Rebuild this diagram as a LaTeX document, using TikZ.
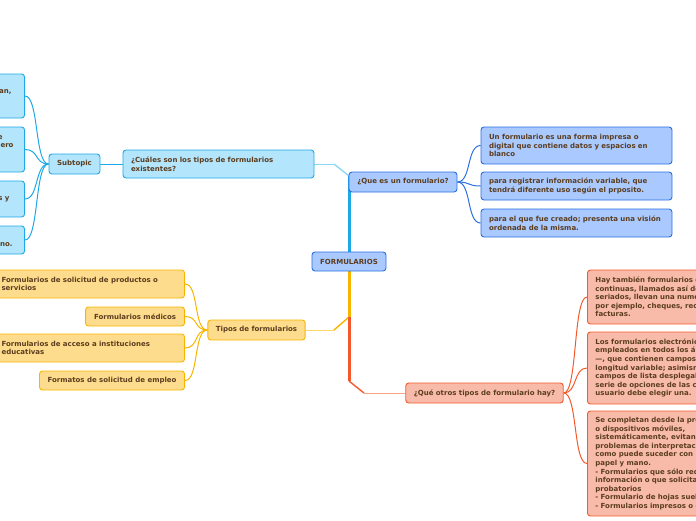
\documentclass[tikz,border=0pt]{standalone}
\usepackage{fontspec}
\setmainfont{DejaVu Sans}

\definecolor{txt}{HTML}{5C3D1E}
\definecolor{bluefill}{HTML}{A9C9FF}
\definecolor{bluedraw}{HTML}{2B6FE0}
\definecolor{cyanfill}{HTML}{B3E5FC}
\definecolor{cyandraw}{HTML}{1FA8E6}
\definecolor{cyanpale}{HTML}{8AD6F7}
\definecolor{yelfill}{HTML}{FEDC8D}
\definecolor{yeldraw}{HTML}{F7B500}
\definecolor{yelpale}{HTML}{FBD66A}
\definecolor{redfill}{HTML}{F8BBA9}
\definecolor{reddraw}{HTML}{F4592B}
\definecolor{redpale}{HTML}{F8A386}

\pgfdeclarelayer{background}
\pgfsetlayers{background,main}

% trailing pad for right-aligned lines
\newcommand{\padr}[1]{\rule{#1}{0pt}}

\tikzset{
  box/.style={rectangle, rounded corners=3pt, line width=0.9pt, text=txt,
    font=\bfseries\fontsize{7}{8.6}\selectfont, inner xsep=8pt, inner ysep=3pt},
  bluebox/.style={box, draw=bluedraw, fill=bluefill},
  cyanbox/.style={box, draw=cyandraw, fill=cyanfill},
  yelbox/.style={box, draw=yeldraw, fill=yelfill},
  redbox/.style={box, draw=reddraw, fill=redfill},
  wide/.style={text width=175pt, align=left},
  link/.style={line width=1pt},
}

\begin{document}
\begin{tikzpicture}[x=1pt, y=-1pt]
    \useasboundingbox (0,0) rectangle (696,520);
    \clip (0,0) rectangle (696,520);

    % Central topic
    \node[bluebox, minimum width=74pt, minimum height=19pt] (root) at (349,261.5) {FORMULARIOS};

    % Blue branch
    \node[bluebox, minimum width=108pt, minimum height=20pt] (que) at (403,182) {¿Que es un formulario?};
    \node[bluebox, wide, minimum height=37pt] (def1) at (576.5,145.5)
        {Un formulario es una forma impresa o\\digital que contiene datos y espacios en\\blanco};
    \node[bluebox, wide, minimum height=28pt] (def2) at (576.5,186)
        {para registrar información variable, que\\tendrá diferente uso según el prposito.};
    \node[bluebox, wide, minimum height=28pt] (def3) at (576.5,223)
        {para el que fue creado; presenta una visión\\ordenada de la misma.};

    % Light blue branch
    \node[cyanbox, wide, minimum height=28pt] (cual) at (218.5,164)
        {¿Cuáles son los tipos de formularios\\existentes?};
    \node[cyanbox, minimum width=51pt, minimum height=20pt] (sub) at (74.5,164) {Subtopic};
    \node[cyanbox, text width=200pt, align=right, minimum height=44pt, anchor=east] (sub1) at (25,96)
        {Formularios de datos personales:\padr{30pt}\\en ellos se solicitan,\padr{5pt}\\nombre, dirección\padr{30pt}\\y teléfono.\padr{30pt}};
    \node[cyanbox, text width=200pt, align=right, minimum height=45pt, anchor=east] (sub2) at (25,149.5)
        {Formularios bancarios: se usan en caso de\padr{14pt}\\envío o cobro de dinero\padr{3pt}\\en bancos y otras\padr{30pt}\\instituciones.\padr{30pt}};
    \node[cyanbox, text width=200pt, align=right, minimum height=36pt, anchor=east] (sub3) at (25,199)
        {Formularios fiscales:\padr{30pt}\\declaraciones de impuestos y\padr{7pt}\\pagos.\padr{30pt}};
    \node[cyanbox, text width=200pt, align=right, minimum height=28pt, anchor=east] (sub4) at (25,240)
        {Formularios de trámites\padr{30pt}\\ante el gobierno.\padr{4pt}};

    % Yellow branch
    \node[yelbox, minimum width=97pt, minimum height=20pt] (tipos) at (256.5,330) {Tipos de formularios};
    \node[yelbox, wide, minimum height=28pt, anchor=east] (tipo1) at (185,284)
        {Formularios de solicitud de productos o\\servicios};
    \node[yelbox, minimum width=99pt, minimum height=19pt, anchor=east] (tipo2) at (185,316.5) {Formularios médicos};
    \node[yelbox, wide, minimum height=28pt, anchor=east] (tipo3) at (185,348)
        {Formularios de acceso a instituciones\\educativas};
    \node[yelbox, minimum width=144pt, minimum height=19pt, anchor=east] (tipo4) at (185,380.5) {Formatos de solicitud de empleo};

    % Red branch
    \node[redbox, minimum width=157pt, minimum height=20pt] (otros) at (484.5,393) {¿Qué otros tipos de formulario hay?};
    \node[redbox, wide, minimum height=54pt, anchor=west] (otro1) at (587,297)
        {Hay también formularios de formas\\continuas, llamados así debido a que\\seriados, llevan una numeración\\por ejemplo, cheques, recibos y\\facturas.};
    \node[redbox, wide, minimum height=72pt, anchor=west] (otro2) at (587,368)
        {Los formularios electrónicos\\empleados en todos los ámbitos\\—, que contienen campos de\\longitud variable; asimismo\\campos de lista desplegable\\serie de opciones de las cuales el\\usuario debe elegir una.};
    \node[redbox, wide, minimum height=105pt, anchor=west] (otro3) at (587,463.5)
        {Se completan desde la propia\\o dispositivos móviles,\\sistemáticamente, evitando\\problemas de interpretación\\como puede suceder con los de\\papel y mano.\\- Formularios que sólo requieren\\información o que solicitan\\probatorios\\- Formulario de hojas sueltas\\- Formularios impresos o digitales};

    % Stem points
    \coordinate (stemtop) at (349,176);
    \coordinate (forkY) at (349,317);
    \coordinate (forkR) at (349,381);
    \coordinate (bendC) at (334,164);
    \coordinate (bendY) at (334,330);
    \coordinate (bendR) at (364,393);

    \begin{pgfonlayer}{background}
    % Stem
    \draw[cyandraw, line width=3pt] (root.north) -- (stemtop);
    \draw[cyanpale, line width=1.4pt] (stemtop) -- (bendC);
    \draw[cyanpale, line width=0.6pt] (bendC) -- (cual.east);
    \draw[yeldraw, line width=3pt] (root.south) -- (forkY);
    \draw[yeldraw, line width=1.4pt] (forkY) -- (bendY);
    \draw[yelpale, line width=0.6pt] (bendY) -- (tipos.east);
    \draw[reddraw, line width=3pt] (forkY) -- (forkR);
    \draw[reddraw, line width=1.4pt] (forkR) -- (bendR);
    \draw[redpale, line width=0.6pt] (bendR) -- (otros.west);

    % Blue links
    \foreach \n in {def1,def2,def3}
        \draw[link, bluedraw] (que.east) .. controls +(14,0) and +(-14,0) .. (\n.west);

    % Light blue links
    \draw[link, cyandraw] (sub.east) -- (cual.west);
    \foreach \n in {sub1,sub2,sub3,sub4}
        \draw[link, cyandraw] (sub.west) .. controls +(-14,0) and +(14,0) .. (\n.east);

    % Yellow links
    \foreach \n in {tipo1,tipo2,tipo3,tipo4}
        \draw[link, yeldraw] (tipos.west) .. controls +(-14,0) and +(14,0) .. (\n.east);

    % Red links
    \foreach \n in {otro1,otro2,otro3}
        \draw[link, reddraw] (otros.east) .. controls +(14,0) and +(-14,0) .. (\n.west);
    \end{pgfonlayer}
\end{tikzpicture}
\end{document}
